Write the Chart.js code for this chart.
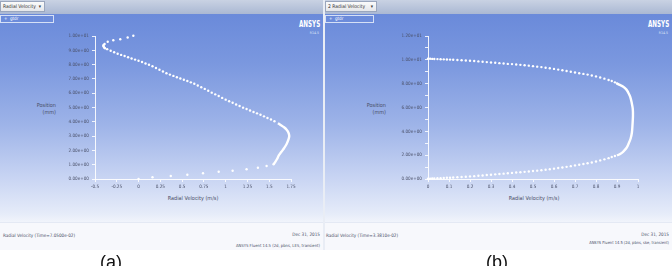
<!DOCTYPE html>
<html>
<head>
<meta charset="utf-8">
<script src="https://cdn.jsdelivr.net/npm/chart.js@4.4.1/dist/chart.umd.min.js"></script>
<style>
  html,body{margin:0;padding:0;background:#fff;}
  body{width:672px;height:266px;overflow:hidden;position:relative;font-family:'Liberation Sans Narrow','DejaVu Sans Condensed',Arial,sans-serif;}
  .panel{position:absolute;top:0;height:250px;overflow:hidden;}
  .main{position:absolute;left:0;right:0;top:14px;height:208px;
    background:linear-gradient(to bottom,#6a8ada 0px,#7b98df 50px,#9db3e8 110px,#c9d5f3 165px,#e6ecf9 200px,#f1f4fb 208px);}
  .hdr{position:absolute;left:0;right:0;top:0;height:14px;background:linear-gradient(to bottom,#c9d2e3,#aab8d3);}
  .foot{position:absolute;left:0;right:0;top:222px;height:28px;background:#f7f8fc;border-top:1px solid #e4e9f4;}
  .dd{position:absolute;top:1px;height:11px;background:linear-gradient(#fbfbfb,#e4e6ea);border:1px solid #9aa6bd;box-sizing:border-box;font-size:5px;line-height:9px;color:#333;padding-left:2px;white-space:nowrap;}
  .dd span{position:absolute;right:3px;top:0;font-size:5px;}
  .leg{position:absolute;top:15px;height:8px;border:1px solid #d6e0f6;box-sizing:border-box;font-size:4.5px;line-height:6px;color:#fff;padding-left:3px;white-space:nowrap;}
  .t{position:absolute;white-space:nowrap;color:#4a5068;}
  .logo{position:absolute;color:#fff;font-weight:bold;font-size:8px;line-height:9px;transform:scaleX(0.78) scaleY(1.15);transform-origin:right top;}
  .ver{position:absolute;color:#dfe6f7;font-size:3.5px;line-height:4px;}
  canvas{position:absolute;top:0;}
  .cap{position:absolute;font-family:'Liberation Sans',Arial,sans-serif;font-size:18px;color:#111;line-height:18px;}
</style>
</head>
<body>
<!-- left panel -->
<div class="panel" style="left:0;width:323px;">
  <div class="hdr"></div>
  <div class="main"></div>
  <div class="foot"></div>
  <div class="dd" style="left:0;width:45px;">Radial Velocity<span>&#9662;</span></div>
  <div class="leg" style="left:0;width:54px;">+&nbsp;&nbsp;gtdr</div>
  <div class="logo" style="right:3px;top:19px;">ANSYS</div>
  <div class="ver" style="right:4px;top:31px;">R14.5</div>
  <div class="t" style="left:36px;top:102px;width:20px;text-align:right;font-size:5.5px;line-height:7px;">Position<br>(mm)</div>
  <div class="t" style="left:143px;top:195px;width:100px;text-align:center;font-size:5.5px;">Radial Velocity (m/s)</div>
  <div class="t" style="left:3px;top:233px;font-size:4.6px;">Radial Velocity (Time=7.0500e-02)</div>
  <div class="t" style="right:3px;top:232px;font-size:4.6px;">Dec 31, 2015</div>
  <div class="t" style="right:3px;top:243px;font-size:4.2px;">ANSYS Fluent 14.5 (2d, pbns, LES, transient)</div>
</div>
<div style="position:absolute;left:323px;top:0;width:2px;height:250px;background:#e9edf5;"></div>
<!-- right panel -->
<div class="panel" style="left:325px;width:347px;">
  <div class="hdr"></div>
  <div class="main"></div>
  <div class="foot"></div>
  <div class="dd" style="left:0;width:52px;">2 Radial Velocity<span>&#9662;</span></div>
  <div class="leg" style="left:0;width:49px;">+&nbsp;&nbsp;gtdr</div>
  <div class="logo" style="right:3px;top:19px;">ANSYS</div>
  <div class="ver" style="right:4px;top:31px;">R14.5</div>
  <div class="t" style="left:41px;top:102px;width:20px;text-align:right;font-size:5.5px;line-height:7px;">Position<br>(mm)</div>
  <div class="t" style="left:159px;top:195px;width:100px;text-align:center;font-size:5.5px;">Radial Velocity (m/s)</div>
  <div class="t" style="left:1px;top:233px;font-size:4.6px;">Radial Velocity (Time=3.3810e-02)</div>
  <div class="t" style="right:3px;top:232px;font-size:4.6px;">Dec 31, 2015</div>
  <div class="t" style="right:3px;top:240px;font-size:4px;">ANSYS Fluent 14.5 (2d, pbns, ske, transient)</div>
</div>
<canvas id="ca" width="323" height="266" style="left:0;"></canvas>
<canvas id="cb" width="347" height="266" style="left:325px;"></canvas>
<div class="cap" style="left:100px;top:253px;">(a)</div>
<div class="cap" style="left:486px;top:253px;">(b)</div>

<script>
// ---------- (a) LES, Time = 7.0500e-02 ----------
const xTicksA = [-0.5,-0.25,0,0.25,0.5,0.75,1,1.25,1.5,1.75];
const yTicksA = [0,1,2,3,4,5,6,7,8,9,10];
const velA_low = [0.00,0.16,0.37,0.56,0.74,0.92,1.08,1.24,1.37,1.47,1.55];
const posA_low = [0.00,0.12,0.21,0.30,0.40,0.51,0.58,0.68,0.79,0.91,1.03];
const velA_wall = [1.55,1.57,1.59,1.61,1.64,1.67,1.70,1.72,1.73,1.72,1.70,1.67,1.63,1.60];
const posA_wall = [1.03,1.20,1.40,1.65,1.90,2.15,2.45,2.75,3.00,3.25,3.45,3.62,3.78,3.90];
const velA_mid = [1.56,1.52,1.48,1.44,1.40,1.36,1.32,1.28,1.24,1.20,1.16,1.12,1.08,1.04,1.00,0.96,0.92,0.88,0.84,0.80,0.76,0.72,0.68,0.64,0.60,0.56,0.52,0.48,0.44,0.40,0.36,0.32,0.28,0.24,0.20,0.16,0.12,0.08,0.04,0.00,-0.04,-0.08,-0.12,-0.16,-0.20,-0.24,-0.28,-0.32,-0.36];
const posA_mid = [4.04,4.16,4.27,4.38,4.49,4.59,4.69,4.79,4.89,4.99,5.10,5.21,5.33,5.44,5.55,5.67,5.80,5.92,6.04,6.17,6.30,6.42,6.54,6.66,6.76,6.85,6.94,7.03,7.12,7.21,7.30,7.40,7.52,7.64,7.76,7.88,7.99,8.08,8.18,8.27,8.35,8.43,8.51,8.60,8.68,8.76,8.86,8.97,9.08];
const velA_top = [-0.385,-0.395,-0.40,-0.405,-0.40,-0.39,-0.354,-0.29,-0.21,-0.125,-0.06];
const posA_top = [9.14,9.20,9.26,9.32,9.38,9.44,9.60,9.70,9.77,9.90,10.02];

// ---------- (b) k-epsilon, Time = 3.3810e-02 ----------
const xTicksB = [0,0.1,0.2,0.3,0.4,0.5,0.6,0.7,0.8,0.9,1];
const yTicksB = [0,1,2,3,4,5,6,7,8,9,10,11,12];
const yLabelsB = [0,2,4,6,8,10,12];
const velB_top = [0,0.01,0.02,0.03,0.045,0.06,0.075,0.09,0.105,0.12,0.14,0.16,0.18,0.20,0.22,0.24,0.26,0.28,0.30,0.32,0.34,0.36,0.38,0.40,0.42,0.44,0.46,0.48,0.50,0.52,0.54,0.56,0.58,0.60,0.62,0.64,0.66,0.68,0.70,0.72,0.74,0.76,0.78,0.80,0.82,0.84,0.86,0.875,0.89,0.90];
const posB_top = [10.10,10.09,10.08,10.07,10.06,10.05,10.04,10.03,10.02,10.01,9.99,9.97,9.95,9.92,9.90,9.87,9.84,9.81,9.78,9.75,9.72,9.69,9.66,9.64,9.61,9.58,9.55,9.51,9.47,9.43,9.39,9.34,9.29,9.24,9.18,9.12,9.06,9.00,8.94,8.88,8.82,8.76,8.69,8.61,8.52,8.42,8.31,8.22,8.11,8.02];
const velB_core = [0.90,0.91,0.93,0.945,0.955,0.963,0.97,0.975,0.976,0.974,0.971,0.965,0.955,0.945,0.93,0.915,0.90];
const posB_core = [8.02,7.92,7.74,7.50,7.20,6.90,6.40,5.90,5.30,4.60,3.90,3.40,2.95,2.60,2.30,2.10,1.97];
const velB_bot = [0,0.01,0.02,0.03,0.045,0.06,0.075,0.09,0.105,0.12,0.14,0.16,0.18,0.20,0.22,0.24,0.26,0.28,0.30,0.32,0.34,0.36,0.38,0.40,0.42,0.44,0.46,0.48,0.50,0.52,0.54,0.56,0.58,0.60,0.62,0.64,0.66,0.68,0.70,0.72,0.74,0.76,0.78,0.80,0.82,0.84,0.86,0.875,0.89];
const posB_bot = [0.02,0.03,0.04,0.05,0.06,0.07,0.08,0.10,0.11,0.13,0.15,0.17,0.19,0.22,0.24,0.27,0.30,0.33,0.36,0.39,0.42,0.45,0.48,0.51,0.54,0.57,0.60,0.63,0.67,0.70,0.74,0.78,0.82,0.87,0.92,0.97,1.02,1.08,1.14,1.20,1.26,1.32,1.39,1.47,1.56,1.65,1.75,1.84,1.93];

const zip = (xs, ys) => xs.map((x, i) => ({x: x, y: ys[i]}));
const fmtE = v => { const p = Number(v).toExponential(2).split('e'); const s = p[1][0]; const d = p[1].slice(1).padStart(2, '0'); return p[0] + 'e' + s + d; };
const TICKFONT = {family: "'Liberation Sans Narrow','DejaVu Sans Condensed',Arial,sans-serif", size: 4.6};
const TICKCOLOR = '#4a5068';

function dots(xs, ys) {
  return {data: zip(xs, ys), showLine: false, pointRadius: 1.2, pointHoverRadius: 1.2,
          pointBackgroundColor: '#ffffff', pointBorderWidth: 0, clip: false};
}
function line(xs, ys) {
  return {data: zip(xs, ys), showLine: true, borderColor: '#ffffff', borderWidth: 2.4,
          pointRadius: 0, tension: 0.35, clip: false};
}
function axisCommon() {
  return {
    grid: {drawOnChartArea: false, drawTicks: true, tickLength: 3, color: 'rgba(255,255,255,0.85)'},
    border: {display: true, color: 'rgba(255,255,255,0.9)', width: 1}
  };
}

Chart.defaults.animation = false;

new Chart(document.getElementById('ca'), {
  type: 'scatter',
  data: {datasets: [dots(velA_low, posA_low), line(velA_wall, posA_wall), dots(velA_mid, posA_mid), dots(velA_top, posA_top)]},
  options: {
    responsive: false, devicePixelRatio: 1, animation: false,
    layout: {padding: {left: 0, right: 32, top: 36, bottom: 0}},
    plugins: {legend: {display: false}, tooltip: {enabled: false}},
    scales: {
      x: Object.assign(axisCommon(), {
        type: 'linear', min: -0.5, max: 1.75,
        afterBuildTicks: s => { s.ticks = xTicksA.map(v => ({value: v})); },
        afterFit: s => { s.height = 87; },
        ticks: {font: TICKFONT, color: TICKCOLOR, padding: 2, maxRotation: 0, autoSkip: false, callback: v => String(v)}
      }),
      y: Object.assign(axisCommon(), {
        type: 'linear', min: 0, max: 10,
        afterBuildTicks: s => { s.ticks = yTicksA.map(v => ({value: v})); },
        afterFit: s => { s.width = 95; },
        ticks: {font: TICKFONT, color: TICKCOLOR, padding: 3, autoSkip: false, callback: v => fmtE(v)}
      })
    }
  }
});

new Chart(document.getElementById('cb'), {
  type: 'scatter',
  data: {datasets: [dots(velB_top, posB_top), line(velB_core, posB_core), dots(velB_bot, posB_bot)]},
  options: {
    responsive: false, devicePixelRatio: 1, animation: false,
    layout: {padding: {left: 0, right: 34, top: 36, bottom: 0}},
    plugins: {legend: {display: false}, tooltip: {enabled: false}},
    scales: {
      x: Object.assign(axisCommon(), {
        type: 'linear', min: 0, max: 1,
        afterBuildTicks: s => { s.ticks = xTicksB.map(v => ({value: v})); },
        afterFit: s => { s.height = 87; },
        ticks: {font: TICKFONT, color: TICKCOLOR, padding: 2, maxRotation: 0, autoSkip: false, callback: v => String(v)}
      }),
      y: Object.assign(axisCommon(), {
        type: 'linear', min: 0, max: 12,
        afterBuildTicks: s => { s.ticks = yTicksB.map(v => ({value: v})); },
        afterFit: s => { s.width = 103; },
        ticks: {font: TICKFONT, color: TICKCOLOR, padding: 3, autoSkip: false,
                callback: v => (yLabelsB.indexOf(v) >= 0 ? fmtE(v) : '')}
      })
    }
  }
});
</script>
</body>
</html>
